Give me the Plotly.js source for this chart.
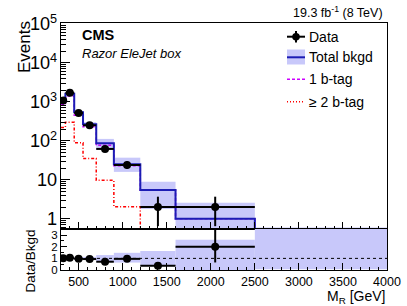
<!DOCTYPE html>
<html>
<head>
<meta charset="utf-8">
<script src="https://cdn.plot.ly/plotly-3.0.1.min.js"></script>
<style>html,body{margin:0;padding:0;background:#fff;}#plot{width:407px;height:306px;}</style>
</head>
<body>
<div id="plot"></div>
<script>
// ---- data ----
var binEdges = [300, 350, 450, 550, 700, 900, 1200, 1600, 2500, 4000];
var dataCounts = [1080, 1700, 520, 250, 62, 24, 2, 2, null];
var dataErrUp  = [33, 41, 23, 16, 8.9, 5.9, 1.7, 1.7, null];
var dataErrDn  = [33, 41, 23, 16, 7.9, 4.9, 1.35, 1.35, null];
var totalBkg   = [1060, 1600, 540, 265, 87, 25, 5.5, 1.0, 0.15];
var totalBkgLo = [980, 1480, 490, 240, 59, 16, 1.8, 0.01, 0.01];
var totalBkgHi = [1150, 1750, 590, 300, 112, 37, 9, 2.6, 0.6];
var oneBtag    = [840, 1400, 450, 228, 77, 23, 5.4, 1.0, 0.14];
var twoBtag    = [218, 300, 89, 35, 9.8, 2.05, 0.1, 0.03, 0.01];
var legendLabels = ["Data", "Total bkgd", "1 b-tag", "\u2265 2 b-tag"];

// ---- derived ----
var nb = binEdges.length - 1;
var centers = [], halfW = [], widths = [];
for (var i = 0; i < nb; i++) {
  centers.push((binEdges[i] + binEdges[i+1]) / 2);
  widths.push(binEdges[i+1] - binEdges[i]);
  halfW.push((binEdges[i+1] - binEdges[i]) / 2);
}
function stepY(arr) { return arr.concat([arr[arr.length-1]]); }
var bandBase = [], bandH = [], rBase = [], rH = [], ratio = [], rUp = [], rDn = [];
for (var i = 0; i < nb; i++) {
  bandBase.push(totalBkgLo[i]);
  bandH.push(totalBkgHi[i] - totalBkgLo[i]);
  rBase.push(totalBkgLo[i] / totalBkg[i]);
  rH.push((totalBkgHi[i] - totalBkgLo[i]) / totalBkg[i]);
  ratio.push(dataCounts[i] == null ? null : dataCounts[i] / totalBkg[i]);
  rUp.push(dataErrUp[i] == null ? null : dataErrUp[i] / totalBkg[i]);
  rDn.push(dataErrDn[i] == null ? null : dataErrDn[i] / totalBkg[i]);
}

var BAND = 'rgb(200,200,250)';
var BLUE = 'rgb(28,28,180)';
var MAG = 'rgb(204,0,255)';
var RED = 'rgb(255,0,0)';
var FONT = 'Liberation Sans, Arial, Helvetica, sans-serif';

var traces = [
  {type:'bar', x:centers, y:bandH, base:bandBase, width:widths, xaxis:'x', yaxis:'y',
   marker:{color:BAND, line:{width:0}}, showlegend:false},
  {type:'scatter', mode:'lines', x:binEdges, y:stepY(oneBtag), line:{shape:'hv', color:MAG, width:1.5, dash:'3px,2px'}, xaxis:'x', yaxis:'y'},
  {type:'scatter', mode:'lines', x:binEdges, y:stepY(twoBtag), line:{shape:'hv', color:RED, width:1.5, dash:'3px,2px,1px,2px'}, xaxis:'x', yaxis:'y'},
  {type:'scatter', mode:'lines', x:binEdges, y:stepY(totalBkg), line:{shape:'hv', color:BLUE, width:2}, xaxis:'x', yaxis:'y'},
  {type:'scatter', mode:'markers', x:centers, y:dataCounts, xaxis:'x', yaxis:'y',
   marker:{color:'black', size:8},
   error_x:{type:'data', array:halfW, color:'black', thickness:2, width:0},
   error_y:{type:'data', symmetric:false, array:dataErrUp, arrayminus:dataErrDn, color:'black', thickness:2, width:0}},
  // ratio panel
  {type:'bar', x:centers, y:rH, base:rBase, width:widths, xaxis:'x2', yaxis:'y2',
   marker:{color:BAND, line:{width:0}}},
  {type:'scatter', mode:'markers', x:centers, y:ratio, xaxis:'x2', yaxis:'y2',
   marker:{color:'black', size:8},
   error_x:{type:'data', array:halfW, color:'black', thickness:2, width:0},
   error_y:{type:'data', symmetric:false, array:rUp, arrayminus:rDn, color:'black', thickness:2, width:0}}
];

// pixel helpers for decorations (plot area: x 61..387, y 23..270)
var L = 61, R = 387, T = 23, B = 270;
function px(x) { return (x - L) / (R - L); }
function py(y) { return (B - y) / (B - T); }

var shapes = [
  // ratio reference line
  {type:'line', xref:'x2 domain', yref:'y2', x0:0, x1:1, y0:1, y1:1, line:{color:'black', width:1, dash:'3px,3px'}},
  // legend symbols
  {type:'line', xref:'paper', yref:'paper', x0:px(287), x1:px(305), y0:py(36.7), y1:py(36.7), line:{color:'black', width:2}},
  {type:'line', xref:'paper', yref:'paper', x0:px(296), x1:px(296), y0:py(31), y1:py(42.5), line:{color:'black', width:2}},
  {type:'circle', xref:'paper', yref:'paper', x0:px(292.2), x1:px(299.8), y0:py(32.9), y1:py(40.5), fillcolor:'black', line:{width:0}},
  {type:'rect', xref:'paper', yref:'paper', x0:px(287), x1:px(305), y0:py(49.5), y1:py(64.5), fillcolor:BAND, line:{width:0}},
  {type:'line', xref:'paper', yref:'paper', x0:px(287), x1:px(305), y0:py(57.3), y1:py(57.3), line:{color:BLUE, width:2}},
  {type:'line', xref:'paper', yref:'paper', x0:px(287), x1:px(305), y0:py(79.3), y1:py(79.3), line:{color:MAG, width:1.5, dash:'3px,2px'}},
  {type:'line', xref:'paper', yref:'paper', x0:px(287), x1:px(305), y0:py(101.7), y1:py(101.7), line:{color:RED, width:1.5, dash:'1px,2px'}}
];

var annotations = [
  {xref:'paper', yref:'paper', x:px(80), y:py(35), xanchor:'left', yanchor:'middle', showarrow:false,
   text:'<b>CMS</b>', font:{family:FONT, size:14.5, color:'black'}},
  {xref:'paper', yref:'paper', x:px(80), y:py(54), xanchor:'left', yanchor:'middle', showarrow:false,
   text:'<i>Razor EleJet box</i>', font:{family:FONT, size:13, color:'black'}},
  {xref:'paper', yref:'paper', x:px(385), y:py(12), xanchor:'right', yanchor:'middle', showarrow:false,
   text:'19.3 fb<sup>-1</sup> (8 TeV)', font:{family:FONT, size:12.5, color:'black'}},
  {xref:'paper', yref:'paper', x:px(24), y:py(19), xanchor:'center', yanchor:'top', textangle:-90, showarrow:false,
   text:'Events', font:{family:FONT, size:17, color:'black'}},
  {xref:'paper', yref:'paper', x:px(30), y:py(227), xanchor:'center', yanchor:'top', textangle:-90, showarrow:false,
   text:'Data/Bkgd', font:{family:FONT, size:13.5, color:'black'}},
  {xref:'paper', yref:'paper', x:px(387), y:py(296.5), xanchor:'right', yanchor:'middle', showarrow:false,
   text:'M<sub>R</sub> [GeV]', font:{family:FONT, size:14, color:'black'}}
];
var legY = [36.7, 57.3, 79.3, 101.7];
for (var k = 0; k < legendLabels.length; k++) {
  annotations.push({xref:'paper', yref:'paper', x:px(307), y:py(legY[k]), xanchor:'left', yanchor:'middle', showarrow:false,
    text:legendLabels[k], font:{family:FONT, size:14, color:'black'}});
}

var axCommon = {showline:true, linecolor:'black', linewidth:1, mirror:true, showgrid:false, zeroline:false,
  ticks:'inside', tickcolor:'black', tickfont:{family:FONT, size:12.5, color:'black'}};

var layout = {
  width:407, height:306,
  margin:{l:L, r:407-R, t:T, b:306-B, pad:0},
  paper_bgcolor:'white', plot_bgcolor:'white',
  showlegend:false, barmode:'overlay', hovermode:false,
  font:{family:FONT, color:'black'},
  xaxis: Object.assign({}, axCommon, {domain:[0,1], anchor:'y', range:[300,4000], dtick:500, tick0:0,
    showticklabels:false, ticklen:7, minor:{ticks:'inside', dtick:100, ticklen:3.5, tickcolor:'black', showgrid:false}}),
  yaxis: Object.assign({}, axCommon, {domain:[(B-229)/(B-T),1], anchor:'x', type:'log', range:[-0.26,5.02], dtick:1,
    exponentformat:'power', ticklen:9, tickfont:{family:FONT, size:14.5, color:'black'},
    minor:{ticks:'inside', dtick:'D1', ticklen:4.5, tickcolor:'black', showgrid:false}}),
  xaxis2: Object.assign({}, axCommon, {domain:[0,1], anchor:'y2', range:[300,4000], dtick:500, tick0:0, matches:'x',
    ticklen:7, minor:{ticks:'inside', dtick:100, ticklen:3.5, tickcolor:'black', showgrid:false}}),
  yaxis2: Object.assign({}, axCommon, {domain:[0,(B-229)/(B-T)], anchor:'x2', range:[0,3.53], dtick:1, tick0:0,
    ticklen:6, tickfont:{family:FONT, size:11.5, color:'black'},
    minor:{ticks:'inside', dtick:0.5, ticklen:3, tickcolor:'black', showgrid:false}}),
  shapes:shapes,
  annotations:annotations
};

Plotly.newPlot('plot', traces, layout, {staticPlot:true, displayModeBar:false});
</script>
</body>
</html>
